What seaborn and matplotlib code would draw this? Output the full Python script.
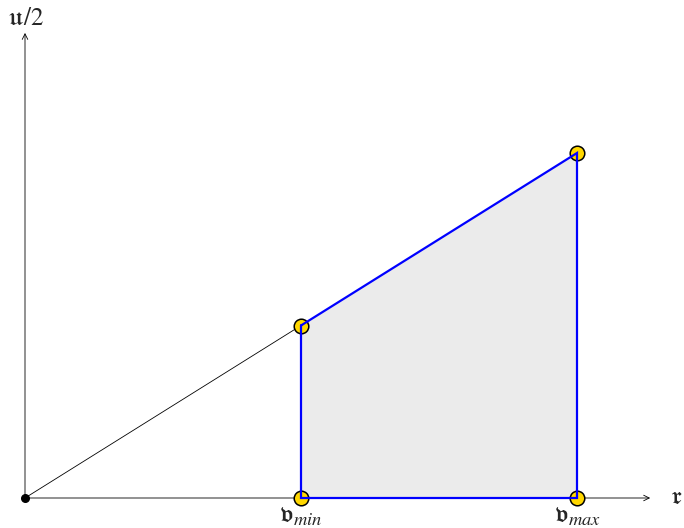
import matplotlib
matplotlib.use('Agg')
import matplotlib.pyplot as plt
import seaborn as sns
import pandas as pd

# data (x in units of v_min, y = u/2)
v_min = 1.0
v_max = 2.0
slope = 0.625
corner_x = [v_min, v_max, v_max, v_min]
corner_y = [v_min * slope, v_max * slope, 0.0, 0.0]
x_label = r'$\mathfrak{r}$'
y_label = r'$\mathfrak{u}/2$'
tick_labels = [r'$\mathfrak{v}_{min}$', r'$\mathfrak{v}_{max}$']

sns.set_style('white')
fig = plt.figure(figsize=(6.84, 5.28), dpi=100)
ax = fig.add_axes([0, 0, 1, 1])
ax.set_xlim(-25 / 276, 659 / 276)
ax.set_ylim(-30 / 276, 498 / 276)
ax.axis('off')

# shaded region
ax.fill(corner_x, corner_y, color='#ebebeb', lw=0, zorder=1)

# axes with arrows
ax.annotate('', xy=(2.265, 0), xytext=(0, 0),
            arrowprops=dict(arrowstyle='->', lw=0.6, color='black',
                            shrinkA=0, shrinkB=0), zorder=2)
ax.annotate('', xy=(0, 1.685), xytext=(0, 0),
            arrowprops=dict(arrowstyle='->', lw=0.6, color='black',
                            shrinkA=0, shrinkB=0), zorder=2)
ax.text(2.36, 0.004, x_label, ha='center', va='center', fontsize=18,
        math_fontfamily='stix')
ax.text(0.0, 1.74, y_label, ha='center', va='center', fontsize=18,
        math_fontfamily='stix')

# ray from origin
ax.plot([0, v_min], [0, v_min * slope], color='black', lw=0.6, zorder=3)
ax.scatter([0], [0], s=30, color='black', zorder=4)

pts = pd.DataFrame({'x': corner_x, 'y': corner_y})
sns.scatterplot(data=pts, x='x', y='y', ax=ax, s=110, color='#ffd700',
                edgecolor='black', linewidth=1.1, zorder=5, legend=False)

# blue boundary
ax.plot(corner_x + [corner_x[0]], corner_y + [corner_y[0]], color='#0000ff',
        lw=1.6, zorder=6, solid_joinstyle='miter')

for xv, lab in zip([v_min, v_max], tick_labels):
    ax.text(xv, -0.064, lab, ha='center', va='center', fontsize=19,
            math_fontfamily='stix')

ax.set_xlabel('')
ax.set_ylabel('')
fig.savefig('out.png', dpi=100)
